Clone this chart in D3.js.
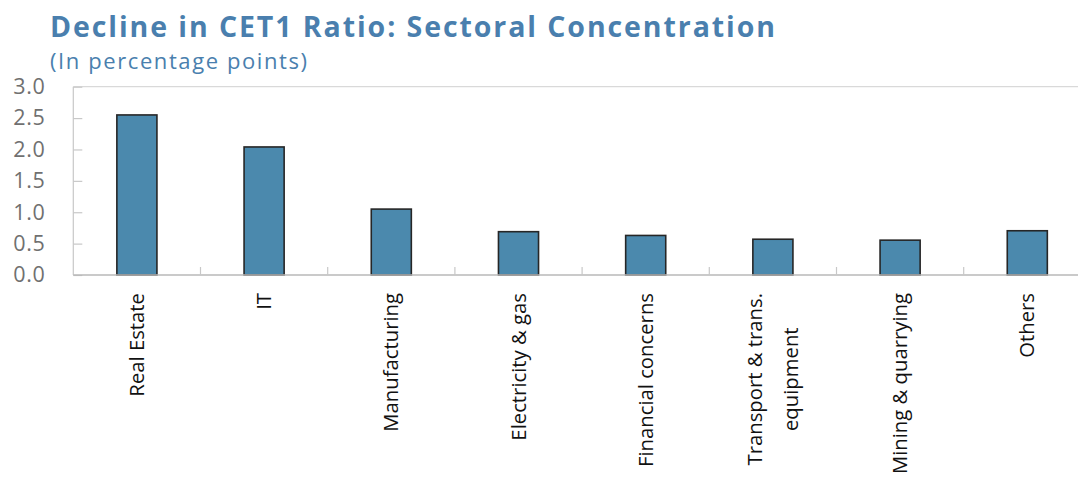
<!DOCTYPE html>
<html>
<head>
<meta charset="utf-8">
<script src="https://cdn.jsdelivr.net/npm/d3@7"></script>
<style>
html,body{margin:0;padding:0;background:#fff;}
svg{display:block;}
text{font-family:"Open Sans","Noto Sans",sans-serif;}
</style>
</head>
<body>
<svg id="chart" width="1078" height="483"></svg>
<script>
const categories = [["Real Estate"], ["IT"], ["Manufacturing"], ["Electricity & gas"], ["Financial concerns"], ["Transport & trans.", "equipment"], ["Mining & quarrying"], ["Others"]];
const values = [2.55, 2.04, 1.05, 0.69, 0.63, 0.57, 0.555, 0.705];
const yTicks = [0, 0.5, 1.0, 1.5, 2.0, 2.5, 3.0];
const titleText = "Decline in CET1 Ratio: Sectoral Concentration";
const subtitleText = "(In percentage points)";

const svg = d3.select("#chart");
const mLeft = 73.3, mTop = 86.7, mBottom = 275;
const step = 127.2;
const mRight = mLeft + step * categories.length;

const x = d3.scaleBand().domain(d3.range(categories.length)).range([mLeft, mRight]).paddingInner(0.685).paddingOuter(0.3425);
const y = d3.scaleLinear().domain([0, 3]).range([mBottom, mTop]);

const title = svg.append("text").attr("x", 50).attr("y", 37).attr("font-size", 28.5).attr("font-weight", "bold")
  .attr("fill", "#4a7fae").text(titleText);
const sub = svg.append("text").attr("x", 50).attr("y", 69).attr("font-size", 22)
  .attr("fill", "#4a7fae").text(subtitleText);
// fit to measured widths in reference
title.attr("textLength", 725).attr("lengthAdjust", "spacing");
sub.attr("textLength", 257).attr("lengthAdjust", "spacing");

// frame: top line and left line
svg.append("line").attr("x1", mLeft).attr("x2", 1078).attr("y1", mTop).attr("y2", mTop).attr("stroke", "#d9d9d9").attr("stroke-width", 1.2);
svg.append("line").attr("x1", mLeft).attr("x2", mLeft).attr("y1", mTop).attr("y2", mBottom).attr("stroke", "#c8c8c8").attr("stroke-width", 1.2);

// y axis ticks & labels
const yAxis = d3.axisLeft(y).tickValues(yTicks).tickFormat(d3.format(".1f")).tickSize(-9).tickPadding(28);
const gy = svg.append("g").attr("transform", `translate(${mLeft},0)`).call(yAxis);
gy.select(".domain").remove();
gy.selectAll(".tick line").attr("stroke", "#c8c8c8").attr("stroke-width", 1.2);
gy.selectAll(".tick text").attr("font-size", 21.5).attr("fill", "#707070").attr("letter-spacing", 0.6)
  .attr("font-family", '"Open Sans","Noto Sans",sans-serif');

// bars
svg.append("g").selectAll("rect").data(values).join("rect")
  .attr("x", (d, i) => x(i)).attr("width", x.bandwidth())
  .attr("y", d => y(d)).attr("height", d => y(0) - y(d))
  .attr("fill", "#4b89ad").attr("stroke", "#262626").attr("stroke-width", 1.6);

// x axis line
svg.append("line").attr("x1", mLeft).attr("x2", 1078).attr("y1", mBottom).attr("y2", mBottom).attr("stroke", "#b8b8b8").attr("stroke-width", 1.6);
// category boundary ticks
const bounds = d3.range(1, categories.length + 1).map(i => mLeft + i * step);
svg.append("g").selectAll("line").data(bounds).join("line")
  .attr("x1", d => d).attr("x2", d => d).attr("y1", mBottom).attr("y2", mBottom - 8)
  .attr("stroke", "#c8c8c8").attr("stroke-width", 1.2);

// x labels rotated
const labelStart = 293;
const lab = svg.append("g").selectAll("text").data(categories).join("text")
  .attr("text-anchor", "middle").attr("font-size", 20.3).attr("fill", "#111");
lab.each(function(lines, i) {
  const t = d3.select(this);
  const n = lines.length;
  lines.forEach((l, k) => {
    t.append("tspan").attr("x", 0).attr("y", 0)
      .attr("dy", ((k - (n - 1) / 2) * 1.75 + 0.35) + "em")
      .text(l);
  });
  let w = 0;
  t.selectAll("tspan").each(function() { w = Math.max(w, this.getComputedTextLength()); });
  t.attr("transform", `translate(${x(i) + x.bandwidth() / 2},${labelStart + w / 2}) rotate(-90)`);
});
</script>
</body>
</html>
